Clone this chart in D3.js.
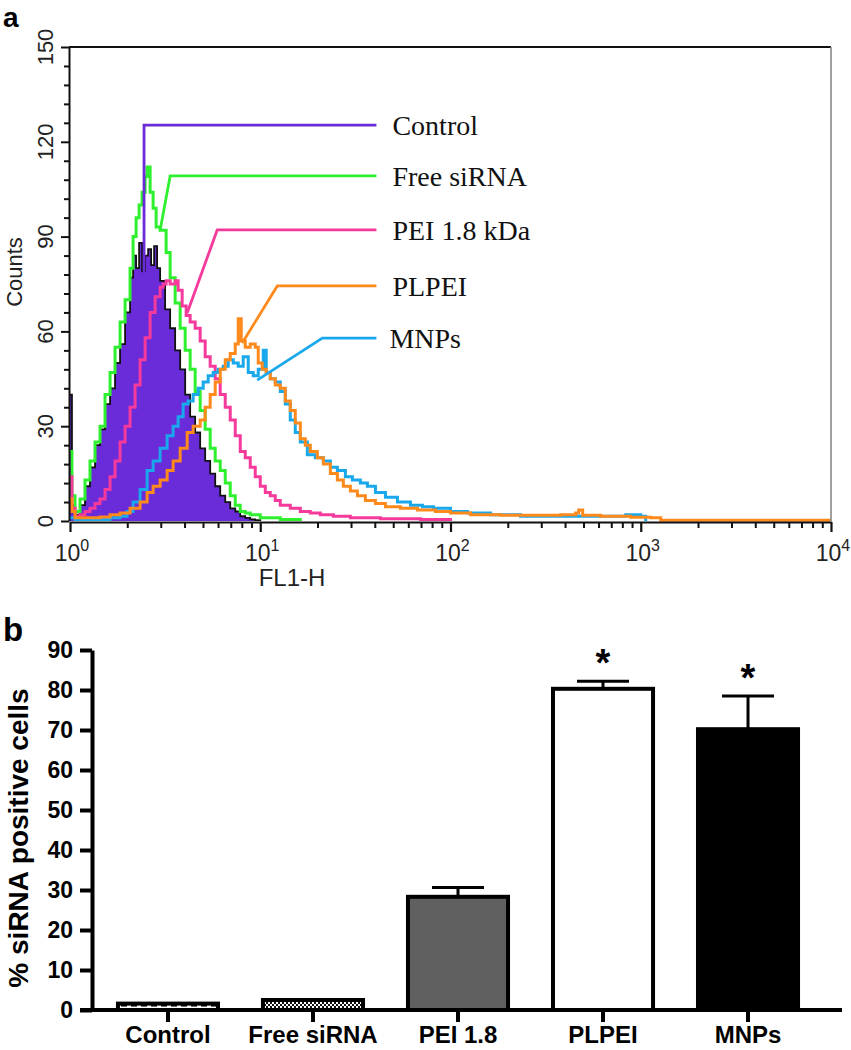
<!DOCTYPE html>
<html><head><meta charset="utf-8">
<script src="https://cdn.jsdelivr.net/npm/d3@7"></script>
<style>
html,body{margin:0;padding:0;background:#fff;}
svg{display:block;}
</style>
</head><body>
<svg id="chart" width="851" height="1050"></svg>
<script>
// ---------- Panel a: flow cytometry histograms (FL1-H value, counts) ----------
const controlHist = [[1.00,40],[1.024,5],[1.063,2],[1.129,5],[1.199,11],[1.274,17],[1.354,24],[1.438,29],[1.528,37],[1.624,42],[1.725,50],[1.833,56],[1.948,66],[2.069,77],[2.146,84],[2.226,80],[2.308,88],[2.393,79],[2.482,84],[2.574,86],[2.669,81],[2.768,87],[2.870,80],[2.977,76],[3.162,67],[3.360,61],[3.570,54],[3.793,48],[4.031,40],[4.281,33],[4.549,28],[4.833,23],[5.135,19],[5.456,15],[5.798,11],[6.160,8],[6.546,6],[6.954,4],[7.389,3],[7.850,1.5],[8.340,1],[8.859,0.5],[9.412,0.3],[10.0,0]];
const freeSirnaHist = [[1.00,22],[1.024,8],[1.063,3],[1.129,7],[1.199,13],[1.274,19],[1.354,25],[1.438,30],[1.528,40],[1.624,47],[1.725,55],[1.833,63],[1.948,70],[2.069,80],[2.146,90],[2.226,96],[2.308,100],[2.393,104],[2.482,109],[2.543,112],[2.637,104],[2.735,99],[2.836,93],[2.977,92],[3.086,92],[3.201,85],[3.360,77],[3.570,69],[3.793,61],[4.031,54],[4.281,48],[4.549,41],[4.833,35],[5.135,29],[5.456,23],[5.798,19],[6.160,16],[6.546,12],[6.954,8],[7.389,5],[7.850,3],[8.340,2.5],[8.859,2],[10.0,1],[11.29,1],[12.74,0.5],[14.38,0.5],[16.24,0]];
const peiHist = [[1.00,14],[1.024,4],[1.063,1.5],[1.129,2],[1.199,3],[1.274,4],[1.354,5.5],[1.438,7],[1.528,10],[1.624,14],[1.725,19],[1.833,25],[1.948,30],[2.069,36],[2.198,43],[2.336,51],[2.482,58],[2.637,66],[2.802,71],[2.977,74],[3.086,75],[3.201,76],[3.360,75],[3.570,76],[3.702,73],[3.886,68],[4.080,65],[4.281,63],[4.549,61],[4.833,57],[5.135,52],[5.456,49],[5.798,45],[6.160,40],[6.546,36],[6.954,32],[7.389,27],[7.850,22],[8.340,20],[8.859,17],[9.412,14],[10.0,11],[10.63,9],[11.29,8],[11.99,6.5],[12.74,5],[14.38,4],[16.24,3],[18.33,2.5],[20.69,2],[24.23,1.5],[29.77,1],[42.82,0.7],[69.54,0.5],[100,0]];
const mnpsHist = [[1.00,1],[1.063,0.5],[1.274,0.5],[1.438,0.5],[1.624,1],[1.833,1.5],[1.995,3],[2.146,6],[2.336,10],[2.543,16],[2.735,19],[2.977,23],[3.240,27],[3.484,30],[3.702,33],[3.933,37],[4.181,38],[4.440,40],[4.718,42],[5.012,44],[5.326,46],[5.657,47],[6.011,48],[6.388,49],[6.788,51],[7.212,50],[7.661,49],[8.138,52],[8.648,47],[9.188,46],[9.761,48],[10.37,54],[10.75,47],[11.29,45],[11.99,44],[12.74,41],[13.54,37],[14.38,32],[15.28,28],[16.24,25],[17.68,21],[19.48,20],[21.46,19],[23.36,17],[25.43,16],[28.02,14],[30.50,13],[33.60,12],[36.58,11],[40.31,9],[45.50,7.5],[52.61,6],[61.60,5],[71.25,4.5],[81.37,4],[100,3],[122.9,2.5],[162.4,2],[233.6,1.5],[379.3,1.5],[615.9,1.5],[834.0,2],[1000,1.5],[1062,0]];
const plpeiHist = [[1.00,7],[1.024,3],[1.063,1],[1.129,1],[1.274,1],[1.438,1.3],[1.624,2],[1.833,2.5],[2.069,4],[2.336,6],[2.543,9],[2.735,11],[2.977,13],[3.240,16],[3.484,19],[3.793,23],[4.130,28],[4.440,30],[4.833,32],[5.135,36],[5.456,40],[5.798,44],[6.160,48],[6.546,51],[6.954,53],[7.389,56],[7.661,64],[7.943,57],[8.340,55],[8.859,56],[9.412,55],[9.761,50],[10.24,48],[10.75,47],[11.29,45],[11.99,43],[12.74,42],[13.54,38],[14.38,35],[15.28,31],[16.24,26],[17.25,24],[18.33,22],[19.95,20],[21.46,18],[23.36,15],[25.43,13],[27.34,11],[29.77,9.5],[32.40,8],[35.70,6.5],[40.31,5.5],[45.50,4.5],[54.57,4],[67.05,3.5],[83.38,3],[100,2.5],[127.4,2],[183.3,1.8],[263.7,1.8],[379.3,2],[454.9,2.5],[471.8,3.5],[495.2,1.8],[615.9,1.5],[885.9,1.2],[1129,1],[1274,0.2],[10000,0.2]];

const histLabels = ["Control","Free siRNA","PEI 1.8 kDa","PLPEI","MNPs"];
const histColors = ["#6a2bd8","#2ef02e","#f53a9c","#ff8a1c","#1aa8ec"];
// leader line anchors (FL1-H, counts): start on curve, corner
const leaderStart = [[2.45,75],[2.977,92],[4.13,65.8],[8.04,56.3],[9.64,44.6]];
const leaderCorner = [[2.45,125.3],[3.36,109.2],[5.94,92.1],[12.29,74.4],[21.2,57.9]];
const leaderEndX = 40.8;

const topYTicks = [0,30,60,90,120,150];
const topXTicks = [1,10,100,1000,10000];
const topXExponents = ["0","1","2","3","4"];

// ---------- Panel b: % siRNA positive cells ----------
const barCategories = ["Control","Free siRNA","PEI 1.8","PLPEI","MNPs"];
const barMeans = [1.6, 2.5, 28.3, 80.3, 70.2];
const barErrors = [0, 0, 2.3, 1.9, 8.3];
const barSignificant = [false, false, false, true, true];
const barYTicks = [0,10,20,30,40,50,60,70,80,90];

// ================= drawing =================
const svg = d3.select("#chart");
const SANS = "'Liberation Sans', Arial, Helvetica, sans-serif";
const SERIF = "'Liberation Serif', 'Times New Roman', serif";

// ---- panel labels
svg.append("text").attr("x",3).attr("y",27).attr("font-family",SANS).attr("font-weight","bold").attr("font-size",28).text("a");
svg.append("text").attr("x",3).attr("y",641).attr("font-family",SANS).attr("font-weight","bold").attr("font-size",33).text("b");

// ---- panel a
const xTop = d3.scaleLog().domain([1,10000]).range([70,831]);
const yTop = d3.scaleLinear().domain([0,150]).range([521,47]);

const gA = svg.append("g");
const lineGen = d3.line().x(d=>xTop(d[0])).y(d=>yTop(d[1])).curve(d3.curveStepAfter);
const areaGen = d3.area().x(d=>xTop(d[0])).y0(yTop(0)).y1(d=>yTop(d[1])).curve(d3.curveStepAfter);

gA.append("path").datum(controlHist).attr("d",areaGen).attr("fill",histColors[0]);
gA.append("path").datum(controlHist).attr("d",lineGen).attr("fill","none").attr("stroke","#111").attr("stroke-width",1.8);

const overlay = [[freeSirnaHist,1],[peiHist,2],[mnpsHist,4],[plpeiHist,3]];
overlay.forEach(([data,ci])=>{
  gA.append("path").datum(data).attr("d",lineGen).attr("fill","none")
    .attr("stroke",histColors[ci]).attr("stroke-width",3).attr("stroke-linejoin","miter");
});

// leader lines + legend text
histLabels.forEach((lab,i)=>{
  const pts = [leaderStart[i], leaderCorner[i], [leaderEndX, leaderCorner[i][1]]];
  gA.append("path").attr("d", d3.line().x(d=>xTop(d[0])).y(d=>yTop(d[1]))(pts))
    .attr("fill","none").attr("stroke",histColors[i]).attr("stroke-width",2.8);
  gA.append("text").attr("x", xTop(leaderEndX)+ (i===4?13:16)).attr("y", yTop(leaderCorner[i][1]))
    .attr("dy","0.35em").attr("font-family",SERIF).attr("font-size",28).attr("fill","#111").text(lab);
});

// axes panel a
const axA = svg.append("g");
const yMinor = d3.range(0,151,6).filter(v=>topYTicks.indexOf(v)<0);
axA.append("g").attr("transform",`translate(${xTop(1)-1},0)`)
  .call(d3.axisLeft(yTop).tickValues(yMinor).tickSize(5).tickFormat(""))
  .call(g=>g.select(".domain").remove())
  .call(g=>g.selectAll("line").attr("stroke","#111").attr("stroke-width",2));
axA.append("g").attr("transform",`translate(${xTop(1)-1},0)`)
  .call(d3.axisLeft(yTop).tickValues(topYTicks).tickSize(8).tickSizeOuter(0))
  .call(g=>g.select(".domain").attr("stroke","#111").attr("stroke-width",2))
  .call(g=>g.selectAll("line").attr("stroke","#111").attr("stroke-width",2))
  .call(g=>g.selectAll("text").remove());
topYTicks.forEach(t=>{
  axA.append("text").attr("transform",`translate(53,${yTop(t)}) rotate(-90)`)
    .attr("text-anchor","middle").attr("font-family",SANS).attr("font-size",22).attr("fill","#222").text(t);
});
const xMinor = xTop.ticks().filter(v=>topXTicks.indexOf(v)<0);
axA.append("g").attr("transform",`translate(0,${yTop(0)+1})`)
  .call(d3.axisBottom(xTop).tickValues(xMinor).tickSize(6).tickFormat(""))
  .call(g=>g.select(".domain").remove())
  .call(g=>g.selectAll("line").attr("stroke","#111").attr("stroke-width",2));
axA.append("g").attr("transform",`translate(0,${yTop(0)+1})`)
  .call(d3.axisBottom(xTop).tickValues(topXTicks).tickSize(10).tickSizeOuter(0).tickFormat(""))
  .call(g=>g.select(".domain").attr("stroke","#111").attr("stroke-width",2))
  .call(g=>g.selectAll("line").attr("stroke","#111").attr("stroke-width",2.2));
topXTicks.forEach((t,i)=>{
  const tx = axA.append("text").attr("x",xTop(t)+2).attr("y",561).attr("text-anchor","middle")
    .attr("font-family",SANS).attr("font-size",23).attr("fill","#222");
  tx.append("tspan").text("10");
  tx.append("tspan").attr("dy",-10).attr("font-size",16).text(topXExponents[i]);
});
axA.append("line").attr("x1",xTop(1)-1).attr("x2",xTop(10000)).attr("y1",yTop(150)).attr("y2",yTop(150))
  .attr("stroke","#111").attr("stroke-width",2);
axA.append("line").attr("x1",xTop(10000)).attr("x2",xTop(10000)).attr("y1",yTop(150)).attr("y2",yTop(0)+1)
  .attr("stroke","#888").attr("stroke-width",1.6);
axA.append("text").attr("x",292).attr("y",586).attr("text-anchor","middle").attr("font-family",SANS)
  .attr("font-size",24).attr("fill","#222").text("FL1-H");
axA.append("text").attr("transform","translate(22,272) rotate(-90)").attr("text-anchor","middle")
  .attr("font-family",SANS).attr("font-size",22).attr("fill","#222").text("Counts");

// ---- panel b
const defs = svg.append("defs");
const pDash = defs.append("pattern").attr("id","pDash").attr("patternUnits","userSpaceOnUse").attr("width",10).attr("height",4);
pDash.append("rect").attr("width",10).attr("height",4).attr("fill","#fff");
pDash.append("rect").attr("x",1).attr("y",1).attr("width",6).attr("height",1.6).attr("fill","#111");
const pCheck = defs.append("pattern").attr("id","pCheck").attr("patternUnits","userSpaceOnUse").attr("width",4).attr("height",4);
pCheck.append("rect").attr("width",4).attr("height",4).attr("fill","#fff");
pCheck.append("rect").attr("width",2).attr("height",2).attr("fill","#111");
pCheck.append("rect").attr("x",2).attr("y",2).attr("width",2).attr("height",2).attr("fill","#111");
const barFills = ["url(#pDash)","url(#pCheck)","#606060","#ffffff","#000000"];

const yBot = d3.scaleLinear().domain([0,90]).range([1010,650]);
const xBot = d3.scaleBand().domain(barCategories).range([92,824]).paddingInner(0.31).paddingOuter(0.179);
const gB = svg.append("g");

barCategories.forEach((c,i)=>{
  if (barErrors[i] <= 0) return;
  const cx = xBot(c)+xBot.bandwidth()/2;
  const top = yBot(barMeans[i]+barErrors[i]);
  gB.append("line").attr("x1",cx).attr("x2",cx).attr("y1",yBot(barMeans[i])).attr("y2",top)
    .attr("stroke","#000").attr("stroke-width",3);
  gB.append("line").attr("x1",cx-26).attr("x2",cx+26).attr("y1",top).attr("y2",top)
    .attr("stroke","#000").attr("stroke-width",3);
  if (barSignificant[i]) {
    gB.append("text").attr("x",cx).attr("y",top-5).attr("text-anchor","middle")
      .attr("font-family",SANS).attr("font-weight","bold").attr("font-size",38).text("*");
  }
});
gB.selectAll("rect.bar").data(barCategories).join("rect").attr("class","bar")
  .attr("x",d=>xBot(d)).attr("width",xBot.bandwidth())
  .attr("y",(d,i)=>yBot(barMeans[i])).attr("height",(d,i)=>yBot(0)-yBot(barMeans[i]))
  .attr("fill",(d,i)=>barFills[i]).attr("stroke","#000").attr("stroke-width",4);

gB.append("g").attr("transform","translate(92,0)")
  .call(d3.axisLeft(yBot).tickValues(barYTicks).tickSize(12).tickSizeOuter(0).tickPadding(7))
  .call(g=>g.select(".domain").attr("stroke","#000").attr("stroke-width",4))
  .call(g=>g.selectAll(".tick line").attr("stroke","#000").attr("stroke-width",4))
  .call(g=>g.selectAll("text").attr("font-family",SANS).attr("font-weight","bold").attr("font-size",23).attr("fill","#000"));
gB.append("g").attr("transform","translate(0,1010)")
  .call(d3.axisBottom(xBot).tickSize(12).tickSizeOuter(0).tickPadding(4))
  .call(g=>g.select(".domain").remove())
  .call(g=>g.selectAll(".tick line").attr("stroke","#000").attr("stroke-width",4))
  .call(g=>g.selectAll("text").attr("font-family",SANS).attr("font-weight","bold").attr("font-size",24).attr("fill","#000"));
gB.append("line").attr("x1",80).attr("x2",842).attr("y1",1010).attr("y2",1010).attr("stroke","#000").attr("stroke-width",4);
gB.append("text").attr("transform","translate(28,838) rotate(-90)").attr("text-anchor","middle")
  .attr("font-family",SANS).attr("font-weight","bold").attr("font-size",28).text("% siRNA positive cells");
</script>
</body></html>
